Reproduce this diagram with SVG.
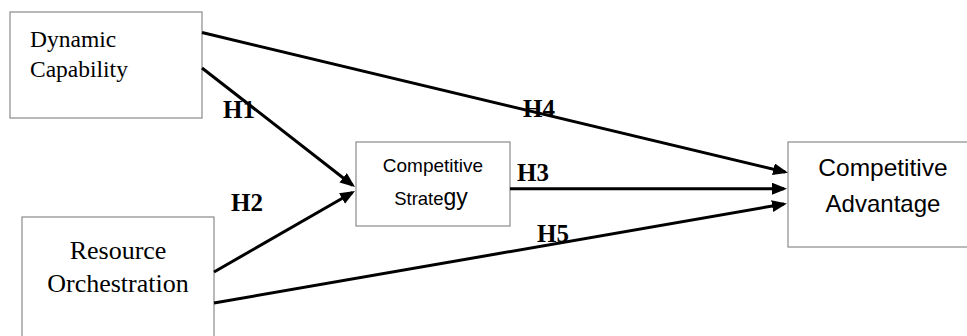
<svg xmlns="http://www.w3.org/2000/svg" width="967" height="336" viewBox="0 0 967 336">
<defs>
<style>
.box{fill:#fff;stroke:#8a8a8a;stroke-width:1.2}
.serif{font-family:"Liberation Serif","Times New Roman",serif;fill:#000}
.sans{font-family:"Liberation Sans",Arial,sans-serif;fill:#000}
.lbl{font-family:"Liberation Serif","Times New Roman",serif;font-weight:bold;font-size:25px;fill:#000}
.conn{stroke:#000;stroke-width:3;fill:none;marker-end:url(#ah)}
</style>
<marker id="ah" markerUnits="userSpaceOnUse" markerWidth="16" markerHeight="13" refX="12" refY="6" orient="auto">
<path d="M0,0 L15,6 L0,12 z" fill="#000"/>
</marker>
</defs>
<rect width="967" height="336" fill="#fff"/>
<g id="dynamic-capability">
<rect class="box" x="10" y="12" width="192" height="106"/>
<text class="serif" font-size="23.5" x="30" y="47">Dynamic</text>
<text class="serif" font-size="23.5" x="30" y="77">Capability</text>
</g>
<g id="resource-orchestration">
<rect class="box" x="22" y="217" width="192" height="130"/>
<text class="serif" font-size="26" x="118" y="259" text-anchor="middle">Resource</text>
<text class="serif" font-size="26" x="118" y="292" text-anchor="middle">Orchestration</text>
</g>
<g id="competitive-strategy">
<rect class="box" x="356" y="142" width="154" height="84"/>
<text class="sans" font-size="19" x="433" y="172" text-anchor="middle">Competitive</text>
<text class="sans" x="431" y="205" text-anchor="middle"><tspan font-size="18.5">Strate</tspan><tspan font-size="23">gy</tspan></text>
</g>
<g id="competitive-advantage">
<rect class="box" x="788" y="142" width="185" height="105"/>
<text class="sans" font-size="24.5" x="883" y="176" text-anchor="middle">Competitive</text>
<text class="sans" font-size="24" x="883" y="212" text-anchor="middle">Advantage</text>
</g>
<g id="connectors">
<line class="conn" x1="202" y1="32.5" x2="785.1" y2="172"/>
<line class="conn" x1="202" y1="68" x2="352.6" y2="185.2"/>
<line class="conn" x1="214" y1="272" x2="352.4" y2="192.5"/>
<line class="conn" x1="510" y1="188.7" x2="784" y2="188.7"/>
<line class="conn" x1="214" y1="303" x2="784" y2="204"/>
</g>
<g id="labels">
<text class="lbl" x="223" y="118">H1</text>
<text class="lbl" x="231" y="211">H2</text>
<text class="lbl" x="517" y="181">H3</text>
<text class="lbl" x="523" y="117">H4</text>
<text class="lbl" x="537" y="242">H5</text>
</g>
</svg>
